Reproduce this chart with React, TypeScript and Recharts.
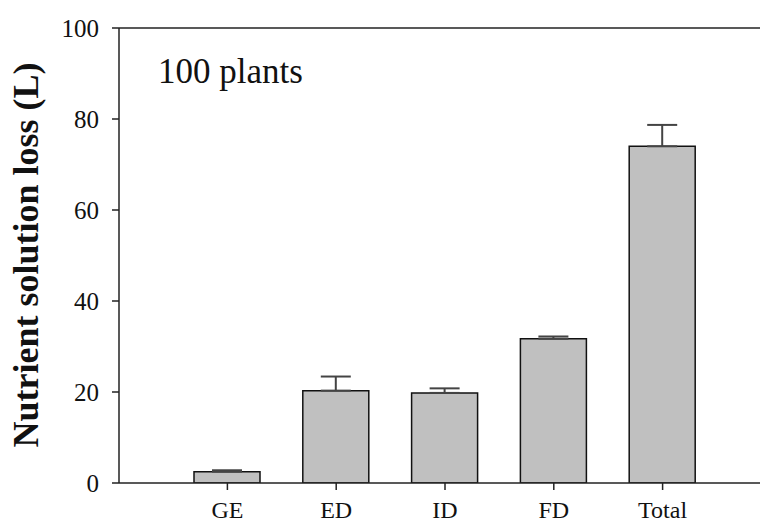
import React from 'react';
import { BarChart, Bar, XAxis, YAxis, ErrorBar, ReferenceLine } from 'recharts';

const categories = ['GE', 'ED', 'ID', 'FD', 'Total'];
const lossValues = [2.5, 20.3, 19.8, 31.7, 74.0];
const upperErrors = [0.3, 3.1, 1.0, 0.5, 4.7];
const yTicks = [0, 20, 40, 60, 80, 100];
const yLabel = 'Nutrient solution loss (L)';
const annotation = '100 plants';

const data = categories.map((c, i) => ({
  name: c,
  loss: lossValues[i],
  err: [0, upperErrors[i]],
}));

const FONT = '"Liberation Serif", "Times New Roman", serif';
const AXIS = '#222';

export default function App() {
  return (
    <div style={{ position: 'absolute', left: 0, top: 0, width: 760, height: 525, background: '#fff' }}>
      <BarChart
        width={760}
        height={525}
        data={data}
        margin={{ top: 28, right: 0, bottom: 0, left: 0 }}
      >
        <XAxis
          dataKey="name"
          type="category"
          height={42}
          padding={{ left: 54, right: 43 }}
          axisLine={{ stroke: AXIS, strokeWidth: 1.5 }}
          tickLine={{ stroke: AXIS, strokeWidth: 1.5 }}
          tickSize={7}
          tickMargin={11}
          tick={{ fill: '#111', fontSize: 24, fontFamily: FONT }}
          interval={0}
        />
        <YAxis
          type="number"
          domain={[0, 100]}
          ticks={yTicks}
          width={119}
          axisLine={{ stroke: AXIS, strokeWidth: 1.5 }}
          tickLine={{ stroke: AXIS, strokeWidth: 1.5 }}
          tickSize={7}
          tickMargin={13}
          tick={{ fill: '#111', fontSize: 25, fontFamily: FONT }}
          allowDataOverflow
        />
        <ReferenceLine y={100} stroke={AXIS} strokeWidth={1.5} />
        <Bar
          dataKey="loss"
          fill="#c0c0c0"
          stroke="#111"
          strokeWidth={1.5}
          barSize={66}
          isAnimationActive={false}
        >
          <ErrorBar dataKey="err" direction="y" width={15} stroke="#444" strokeWidth={2} isAnimationActive={false} />
        </Bar>
      </BarChart>
      <svg
        width={760}
        height={525}
        style={{ position: 'absolute', left: 0, top: 0, pointerEvents: 'none' }}
      >
        <text x={158} y={83} fontSize={35} fontFamily={FONT} fill="#111">
          {annotation}
        </text>
        <text
          x={0}
          y={0}
          transform="translate(38, 255) rotate(-90)"
          textAnchor="middle"
          fontSize={36}
          fontWeight="bold"
          fontFamily={FONT}
          fill="#111"
        >
          {yLabel}
        </text>
      </svg>
    </div>
  );
}
